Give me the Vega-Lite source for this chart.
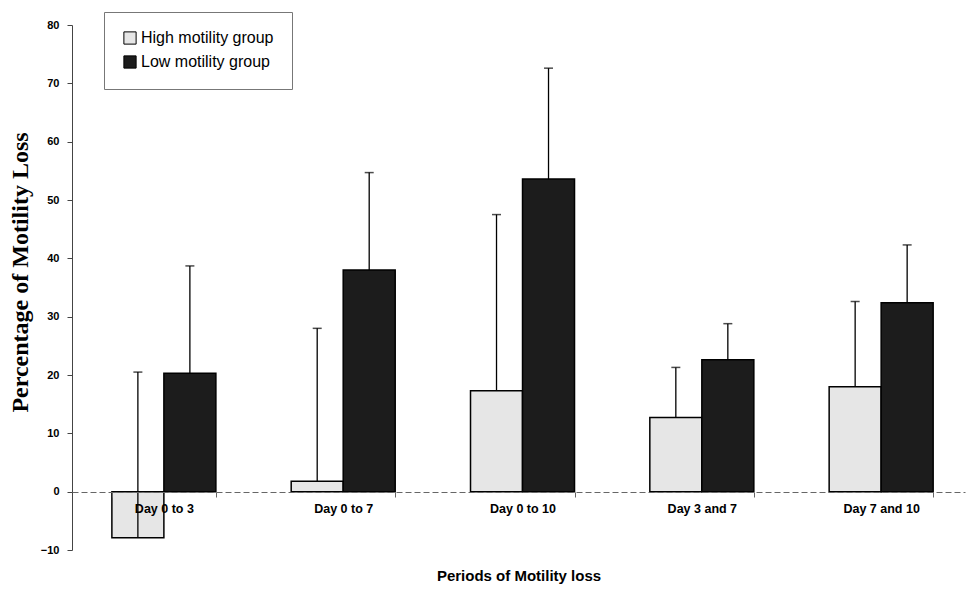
{
  "$schema": "https://vega.github.io/schema/vega-lite/v6.json",
  "width": 893,
  "height": 525,
  "autosize": {"type": "none"},
  "padding": {"left": 72, "top": 25, "right": 2, "bottom": 39},
  "background": "white",
  "config": {
    "view": {"stroke": null},
    "font": "Liberation Sans"
  },
  "data": {
    "values": [
      {"period": "Day 0 to 3", "group": "High motility group", "value": -7.9, "upper": 20.5},
      {"period": "Day 0 to 3", "group": "Low motility group", "value": 20.3, "upper": 38.7},
      {"period": "Day 0 to 7", "group": "High motility group", "value": 1.8, "upper": 28.0},
      {"period": "Day 0 to 7", "group": "Low motility group", "value": 38.0, "upper": 54.7},
      {"period": "Day  0 to 10", "group": "High motility group", "value": 17.3, "upper": 47.5},
      {"period": "Day  0 to 10", "group": "Low motility group", "value": 53.6, "upper": 72.6},
      {"period": "Day 3 and 7", "group": "High motility group", "value": 12.7, "upper": 21.3},
      {"period": "Day 3 and 7", "group": "Low motility group", "value": 22.6, "upper": 28.8},
      {"period": "Day 7 and 10", "group": "High motility group", "value": 18.0, "upper": 32.6},
      {"period": "Day 7 and 10", "group": "Low motility group", "value": 32.4, "upper": 42.3}
    ]
  },
  "encoding": {
    "x": {
      "field": "period",
      "type": "nominal",
      "sort": null,
      "scale": {"paddingInner": 0.42, "paddingOuter": 0.2, "align": 0.556},
      "axis": {
        "zindex": 1,
        "title": "Periods of Motility loss",
        "titleFont": "Liberation Sans",
        "titleFontSize": 15,
        "titleFontWeight": "bold",
        "titleColor": "black",
        "titlePadding": 54,
        "labelAngle": 0,
        "labelFont": "Liberation Sans",
        "labelFontSize": 12.5,
        "labelFontWeight": "bold",
        "labelColor": "black",
        "labelPadding": 5,
        "offset": -58,
        "domainColor": "#666",
        "domainDash": [6, 3],
        "domainWidth": 1,
        "tickBand": "extent",
        "tickColor": "#666",
        "tickSize": 5
      }
    },
    "xOffset": {"field": "group", "type": "nominal"},
    "y": {
      "field": "value",
      "type": "quantitative",
      "scale": {"domain": [-10, 80], "nice": false},
      "axis": {
        "title": "Percentage of Motility Loss",
        "titleFont": "Liberation Serif",
        "titleFontSize": 24,
        "titleFontWeight": "bold",
        "titleColor": "black",
        "titlePadding": 8,
        "titleY": 247,
        "values": [-10, 0, 10, 20, 30, 40, 50, 60, 70, 80],
        "grid": false,
        "labelFont": "Liberation Sans",
        "labelFontSize": 11,
        "labelFontWeight": "bold",
        "labelColor": "black",
        "labelPadding": 8,
        "domainColor": "#444",
        "tickColor": "#444",
        "tickSize": 5
      }
    }
  },
  "layer": [
    {
      "mark": {"type": "bar", "stroke": "black", "strokeWidth": 1.5},
      "encoding": {
        "color": {
          "field": "group",
          "type": "nominal",
          "scale": {"domain": ["High motility group", "Low motility group"], "range": ["#e6e6e6", "#1c1c1c"]},
          "legend": {
            "orient": "none",
            "legendX": 32,
            "legendY": -13,
            "title": null,
            "symbolType": "square",
            "symbolSize": 150,
            "symbolStrokeColor": "black",
            "symbolStrokeWidth": 1,
            "labelFont": "Liberation Sans",
            "labelFontSize": 16,
            "labelColor": "black",
            "labelOffset": 3,
            "rowPadding": 6,
            "padding": 18,
            "strokeColor": "#777",
            "fillColor": "white"
          }
        }
      }
    },
    {
      "mark": {"type": "rule", "color": "black", "strokeWidth": 1.3},
      "encoding": {"y2": {"field": "upper"}}
    },
    {
      "mark": {"type": "tick", "color": "black", "thickness": 1.5, "size": 9, "orient": "horizontal"},
      "encoding": {"y": {"field": "upper", "type": "quantitative"}}
    }
  ]
}
